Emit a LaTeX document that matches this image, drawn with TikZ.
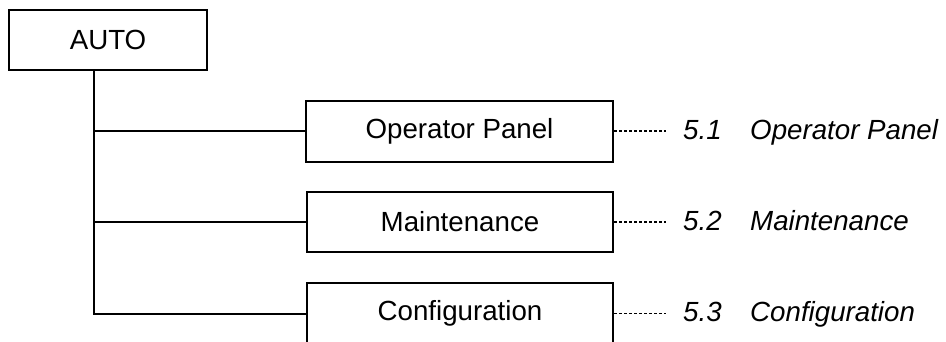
\documentclass[tikz,border=0pt]{standalone}
\usepackage{fontspec}
\setmainfont{Liberation Sans}
\begin{document}
\begin{tikzpicture}[x=1pt,y=-1pt,
  box/.style={draw,line width=2pt,rectangle,inner sep=0pt,font=\fontsize{27.7}{33}\selectfont},
  link/.style={line width=2pt},
  dots/.style={line width=1.3pt,dash pattern=on 2.5pt off 2.5pt},
  lab/.style={anchor=west,inner sep=0pt,text height=20pt,text depth=6pt,font=\fontsize{27.7}{33}\selectfont\itshape}]
\useasboundingbox (0,0) rectangle (946,341);
\node[box,minimum width=198pt,minimum height=60pt] (auto) at (108,40) {AUTO};
\node[box,minimum width=307pt,minimum height=61pt] (op) at (459.5,131) {Operator Panel};
\node[box,minimum width=306pt,minimum height=60pt] (mt) at (460,222) {Maintenance};
\node[box,minimum width=306pt,minimum height=61pt] (cf) at (460,313.5) {Configuration};
\coordinate (tk) at (94,0);
\draw[link] (auto.south -| tk) |- (cf.west);
\draw[link] (tk |- op.west) -- (op.west);
\draw[link] (tk |- mt.west) -- (mt.west);
\node[lab] (n1) at (683,132) {5.1};
\node[lab] (t1) at (750,132) {Operator Panel};
\node[lab] (n2) at (683,223) {5.2};
\node[lab] (t2) at (750,223) {Maintenance};
\node[lab] (n3) at (683,314) {5.3};
\node[lab] (t3) at (750,314) {Configuration};
\draw[dots] (op.east) -- (op.east -| 666,0);
\draw[dots] (mt.east) -- (mt.east -| 666,0);
\draw[dots] (cf.east) -- (cf.east -| 666,0);
\end{tikzpicture}
\end{document}
